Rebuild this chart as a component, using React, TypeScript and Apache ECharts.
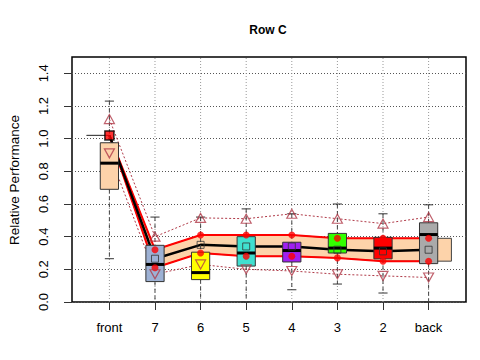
import React, { useEffect, useRef } from 'react';
import * as echarts from 'echarts';

const categories = ['front', '7', '6', '5', '4', '3', '2', 'back'];
const boxColors = ['#FDD3AA', '#9DB1D4', '#FFFF00', '#40E0D0', '#A020F0', '#33FF00', '#FF0000', '#AAAAAA'];
const whiskerLow = [0.265, 0.0, 0.0, 0.0, 0.075, 0.11, 0.055, 0.0];
const boxQ1 = [0.69, 0.125, 0.137, 0.22, 0.245, 0.3, 0.264, 0.235];
const boxMedian = [0.85, 0.23, 0.18, 0.3, 0.315, 0.33, 0.33, 0.413];
const boxQ3 = [0.975, 0.347, 0.305, 0.4, 0.366, 0.42, 0.396, 0.485];
const whiskerHigh = [1.23, 0.52, 0.52, 0.57, 0.54, 0.6, 0.54, 0.595];
const meanValues = [1.02, 0.265, 0.35, 0.34, 0.34, 0.32, 0.31, 0.32];
const bandUpper = [1.02, 0.32, 0.41, 0.41, 0.41, 0.39, 0.39, 0.39];
const bandLower = [1.02, 0.21, 0.3, 0.28, 0.28, 0.27, 0.25, 0.25];
const triUp = [1.12, 0.4, 0.515, 0.51, 0.54, 0.51, 0.48, 0.52];
const triDown = [0.91, 0.17, 0.23, 0.2, 0.19, 0.17, 0.16, 0.15];
const yTicks = [0, 0.2, 0.4, 0.6, 0.8, 1.0, 1.2, 1.4];

const FONT = 'Liberation Sans, Arial, Helvetica, sans-serif';
const bandFill = '#FDD3AA';
const triColor = '#B03A48';

export default function App() {
  const ref = useRef<HTMLDivElement>(null);
  useEffect(() => {
    const chart = echarts.init(ref.current!, null, { renderer: 'svg' });
    const xs = categories.map((_, i) => i + 1);
    const pairs = (vals: number[]) => xs.map((x, i) => [x, vals[i]]);

    const option: any = {
      animation: false,
      backgroundColor: '#ffffff',
      textStyle: { fontFamily: FONT },
      grid: {
        left: 72, top: 57, right: 14, bottom: 58,
        show: true, borderColor: '#000', borderWidth: 1.5, backgroundColor: 'transparent',
      },
      graphic: [
        {
          type: 'text', x: 268, y: 30,
          style: { text: 'Row C', font: `bold 12px ${FONT}`, fill: '#000', textAlign: 'center', textVerticalAlign: 'middle' },
        },
        {
          type: 'text', x: 14, y: 180, rotation: Math.PI / 2,
          style: { text: 'Relative Performance', font: `13.5px ${FONT}`, fill: '#000', textAlign: 'center', textVerticalAlign: 'middle' },
        },
      ],
      xAxis: {
        type: 'value', min: 0.18, max: 8.82,
        axisLine: { show: false },
        axisTick: { show: true, customValues: xs, length: 8, lineStyle: { color: '#333' } },
        axisLabel: {
          customValues: xs, margin: 19, color: '#000', fontSize: 13, fontFamily: FONT,
          formatter: (v: number) => categories[Math.round(v) - 1] ?? '',
        },
        splitLine: { show: false },
      },
      yAxis: {
        type: 'value', min: 0, max: 1.5, interval: 0.2,
        axisLine: { show: false },
        axisTick: { show: true, customValues: yTicks, length: 8, lineStyle: { color: '#333' } },
        axisLabel: {
          customValues: yTicks, rotate: 90, margin: 22, color: '#000', fontSize: 13, fontFamily: FONT,
          formatter: (v: number) => v.toFixed(1),
        },
        splitLine: { show: true, lineStyle: { color: '#555', type: [1, 2], width: 1 } },
      },
      series: [
        {
          type: 'custom', z: 1, silent: true,
          data: xs.map((x) => [x, 0]),
          renderItem: (params: any, api: any) => {
            const x = xs[params.dataIndex];
            const p0 = api.coord([x, 0]);
            const p1 = api.coord([x, 1.5]);
            return {
              type: 'line',
              shape: { x1: p0[0], y1: p0[1], x2: p1[0], y2: p1[1] },
              style: { stroke: '#999', lineWidth: 1, lineDash: [1, 2] },
            };
          },
        },
        {
          type: 'custom', z: 2, silent: true,
          data: [[1, 1]],
          renderItem: (params: any, api: any) => {
            const bx = [0.5, ...xs, 8.5];
            const up = [bandUpper[0], ...bandUpper, bandUpper[bandUpper.length - 1]];
            const lo = [bandLower[0], ...bandLower, bandLower[bandLower.length - 1]];
            const pts: number[][] = [];
            for (let i = 0; i < bx.length; i++) pts.push(api.coord([bx[i], up[i]]));
            for (let i = bx.length - 1; i >= 0; i--) pts.push(api.coord([bx[i], lo[i]]));
            return {
              type: 'polygon',
              shape: { points: pts },
              style: { fill: bandFill, stroke: '#444', lineWidth: 1 },
            };
          },
        },
        {
          type: 'line', z: 3, data: pairs(bandUpper), showSymbol: false, silent: true,
          lineStyle: { color: '#FF0000', width: 2 },
        },
        {
          type: 'line', z: 3, data: pairs(bandLower), showSymbol: false, silent: true,
          lineStyle: { color: '#FF0000', width: 2 },
        },
        {
          type: 'line', z: 3, data: pairs(meanValues), showSymbol: false, silent: true,
          lineStyle: { color: '#000', width: 2.5 },
        },
        {
          type: 'line', z: 3, data: pairs(triUp), showSymbol: false, silent: true,
          lineStyle: { color: triColor, width: 1, type: [2, 2] },
        },
        {
          type: 'line', z: 3, data: pairs(triDown), showSymbol: false, silent: true,
          lineStyle: { color: triColor, width: 1, type: [2, 2] },
        },
        {
          type: 'custom', z: 4, silent: true,
          data: pairs(boxMedian),
          renderItem: (params: any, api: any) => {
            const i = params.dataIndex;
            const x = xs[i];
            const hw = 0.2;
            const cw = 0.1;
            const c = (xx: number, yy: number) => api.coord([xx, yy]);
            const [xl, yQ3] = c(x - hw, boxQ3[i]);
            const [xr, yQ1] = c(x + hw, boxQ1[i]);
            const [xc, yMed] = c(x, boxMedian[i]);
            const yHi = c(x, whiskerHigh[i])[1];
            const yLo = c(x, whiskerLow[i])[1];
            const cl = c(x - cw, 0)[0];
            const cr = c(x + cw, 0)[0];
            const wStyle = { stroke: '#444', lineWidth: 1, lineDash: [4, 3] };
            const capStyle = { stroke: '#333', lineWidth: 1 };
            return {
              type: 'group',
              children: [
                { type: 'line', shape: { x1: xc, y1: yHi, x2: xc, y2: yQ3 }, style: wStyle },
                { type: 'line', shape: { x1: xc, y1: yQ1, x2: xc, y2: yLo }, style: wStyle },
                { type: 'line', shape: { x1: cl, y1: yHi, x2: cr, y2: yHi }, style: capStyle },
                { type: 'line', shape: { x1: cl, y1: yLo, x2: cr, y2: yLo }, style: capStyle },
                {
                  type: 'rect',
                  shape: { x: xl, y: yQ3, width: xr - xl, height: yQ1 - yQ3 },
                  style: { fill: boxColors[i], stroke: '#333', lineWidth: 1 },
                },
                { type: 'line', shape: { x1: xl, y1: yMed, x2: xr, y2: yMed }, style: { stroke: '#000', lineWidth: 3 } },
              ],
            };
          },
        },
        {
          type: 'scatter', z: 5, silent: true,
          data: [...pairs(bandUpper).slice(1), ...pairs(bandLower).slice(1)],
          symbol: 'circle', symbolSize: 7,
          itemStyle: { color: '#FF0000' },
        },
        {
          type: 'scatter', z: 5, silent: true,
          data: pairs(meanValues).slice(1),
          symbol: 'rect', symbolSize: 7,
          itemStyle: { color: 'rgba(0,0,0,0)', borderColor: '#333', borderWidth: 1 },
        },
        {
          type: 'scatter', z: 6, silent: true,
          data: pairs(meanValues).slice(0, 1),
          symbol: 'rect', symbolSize: 9,
          itemStyle: { color: '#FF0000', borderColor: '#000', borderWidth: 1.5 },
        },
        {
          type: 'scatter', z: 6, silent: true,
          data: pairs(triUp),
          symbol: 'path://M5,0 L10,9 L0,9 Z', symbolSize: [10, 9],
          itemStyle: { color: 'rgba(0,0,0,0)', borderColor: triColor, borderWidth: 1.2 },
        },
        {
          type: 'scatter', z: 6, silent: true,
          data: pairs(triDown),
          symbol: 'path://M0,0 L10,0 L5,9 Z', symbolSize: [10, 9],
          itemStyle: { color: 'rgba(0,0,0,0)', borderColor: triColor, borderWidth: 1.2 },
        },
      ],
    };
    chart.setOption(option);
    return () => chart.dispose();
  }, []);
  return <div ref={ref} style={{ position: 'absolute', left: 0, top: 0, width: 480, height: 360 }} />;
}
